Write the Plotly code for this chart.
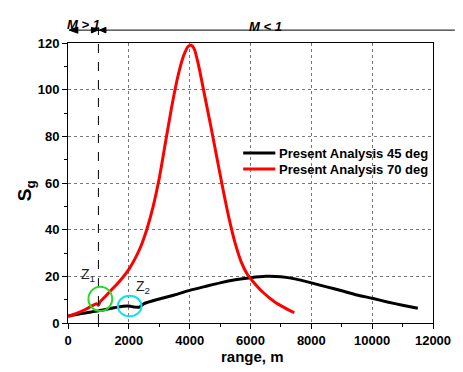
import plotly.graph_objects as go

# Data
range_45 = [0, 500, 1000, 1500, 1800, 2000, 2200, 2350, 2500, 3000, 3500, 4000, 4500,
            5000, 5500, 6000, 6500, 7000, 7500, 8000, 8500, 9000, 9500, 10000, 10500,
            11000, 11500]
sg_45 = [3, 4.2, 5.2, 6.5, 7.2, 7.3, 6.8, 6.8, 8.3, 10.3, 12, 14, 15.6,
         17.2, 18.5, 19.4, 20, 19.8, 18.8, 17.2, 15.5, 13.8, 12, 10.6, 9,
         7.6, 6.3]

range_70 = [0, 300, 600, 850, 950, 1000, 1050, 1200, 1400, 1600, 1800, 2000, 2200, 2400,
            2600, 2800, 3000, 3200, 3400, 3600, 3800, 3950, 4050, 4150, 4300, 4500,
            4700, 4900, 5100, 5300, 5500, 5700, 5900, 6100, 6400, 6800, 7100, 7440]
sg_70 = [2.8, 4.2, 6, 7.8, 8.2, 7.6, 9, 11, 13.8, 16.5, 19.5, 23, 27.5, 33,
         40.5, 50, 62, 77, 92, 105, 114.5, 118.5, 119, 117.5, 110, 97,
         84, 70.5, 57, 44.5, 34, 26, 20.8, 17.5, 13.3, 9, 6.7, 4.4]

series_names = ["Present Analysis 45 deg", "Present Analysis 70 deg"]
series_colors = ["black", "red"]
x_ticks = [0, 2000, 4000, 6000, 8000, 10000, 12000]
x_ticktext = ["0", "2000", "4000", "6000", "8000", "10000", "12000"]
y_ticks = [0, 20, 40, 60, 80, 100, 120]
y_ticktext = ["0", "20", "40", "60", "80", "100", "120"]

FONT = "Liberation Sans, Arial"

fig = go.Figure()
fig.add_trace(go.Scatter(x=range_45, y=sg_45, mode="lines", name=series_names[0],
                         line=dict(color=series_colors[0], width=3, shape="spline", smoothing=0.6)))
fig.add_trace(go.Scatter(x=range_70, y=sg_70, mode="lines", name=series_names[1],
                         line=dict(color=series_colors[1], width=3, shape="spline", smoothing=0.6)))

axis_font = dict(family=FONT, size=13, color="black", weight="bold")

# page body has an 8px margin: compensate so that the plot area sits at x 68-441, y 43-323
fig.update_layout(
    width=455, height=364,
    margin=dict(l=60, r=22, t=35, b=49),
    paper_bgcolor="white", plot_bgcolor="white",
    showlegend=False,
    xaxis=dict(range=[0, 12000], tickvals=x_ticks, ticktext=x_ticktext, ticks="outside", ticklen=5,
               tickcolor="black", linecolor="black", linewidth=1, mirror=True,
               showgrid=True, gridcolor="#777777", griddash="dot", gridwidth=1,
               zeroline=False, tickfont=axis_font,
               minor=dict(ticks="outside", ticklen=3, dtick=1000, tickcolor="black", showgrid=False)),
    yaxis=dict(range=[0, 120], tickvals=y_ticks, ticktext=y_ticktext, ticks="outside", ticklen=5,
               tickcolor="black", linecolor="black", linewidth=1, mirror=True,
               showgrid=True, gridcolor="#777777", griddash="dot", gridwidth=1,
               zeroline=False, tickfont=axis_font,
               minor=dict(ticks="outside", ticklen=3, dtick=10, tickcolor="black", showgrid=False)),
)

# manual legend (lines + text)
leg_y = [0.607, 0.55]
for i in range(2):
    fig.add_shape(type="line", xref="paper", yref="paper", x0=0.480, x1=0.568, y0=leg_y[i], y1=leg_y[i],
                  line=dict(color=series_colors[i], width=3))
    fig.add_annotation(x=0.572, y=leg_y[i], xref="paper", yref="paper", text="<b>" + series_names[i] + "</b>",
                       showarrow=False, xanchor="left", yanchor="middle",
                       font=dict(family=FONT, size=13, color="black"))

# dashed vertical line at M = 1 boundary
fig.add_shape(type="line", xref="x", yref="paper", x0=1000, x1=1000, y0=0, y1=1.055,
              line=dict(color="black", width=1, dash="dash"))
# top horizontal line with arrowheads
ya = 1.046
fig.add_shape(type="line", xref="paper", yref="paper", x0=0.005, x1=1.06, y0=ya, y1=ya,
              line=dict(color="black", width=1))
fig.add_shape(type="path", xref="paper", yref="paper",
              path=f"M 0.003,{ya} L 0.027,{ya + 0.011} L 0.027,{ya - 0.011} Z",
              fillcolor="black", line=dict(color="black", width=1))
fig.add_shape(type="path", xref="paper", yref="paper",
              path=f"M 0.082,{ya} L 0.064,{ya + 0.010} L 0.064,{ya - 0.010} Z",
              fillcolor="black", line=dict(color="black", width=1))
fig.add_shape(type="path", xref="paper", yref="paper",
              path=f"M 0.086,{ya} L 0.104,{ya + 0.010} L 0.104,{ya - 0.010} Z",
              fillcolor="black", line=dict(color="black", width=1))

fig.add_annotation(x=500, y=1.10, xref="x", yref="paper", text="<b><i>M > 1</i></b>",
                   showarrow=False, font=dict(family=FONT, size=13, color="black"))
fig.add_annotation(x=6500, y=1.092, xref="x", yref="paper", text="<b><i>M < 1</i></b>",
                   showarrow=False, font=dict(family=FONT, size=13, color="black"))

# circles Z1, Z2
fig.add_shape(type="circle", xref="x", yref="y", x0=1062 - 390, x1=1062 + 390, y0=10.3 - 5.2, y1=10.3 + 5.2,
              line=dict(color="#22dd22", width=2))
fig.add_shape(type="circle", xref="x", yref="y", x0=2027 - 390, x1=2027 + 390, y0=7.3 - 4.4, y1=7.3 + 4.4,
              line=dict(color="#11e0f0", width=2))
fig.add_annotation(x=650, y=20.5, xref="x", yref="y", text="Z<sub>1</sub>", showarrow=False,
                   font=dict(family=FONT, size=14, color="#222222"))
fig.add_annotation(x=2450, y=15.5, xref="x", yref="y", text="Z<sub>2</sub>", showarrow=False,
                   font=dict(family=FONT, size=14, color="#222222"))

# axis titles
fig.add_annotation(x=0.505, y=-0.118, xref="paper", yref="paper", text="<b>range, m</b>", showarrow=False,
                   yanchor="middle", font=dict(family=FONT, size=15, color="black"))
fig.add_annotation(x=-0.153, y=0.471, xref="paper", yref="paper", text="<b>S<sub>g</sub></b>", showarrow=False,
                   textangle=-90, font=dict(family=FONT, size=19, color="black"))

fig.write_html("out.html")
